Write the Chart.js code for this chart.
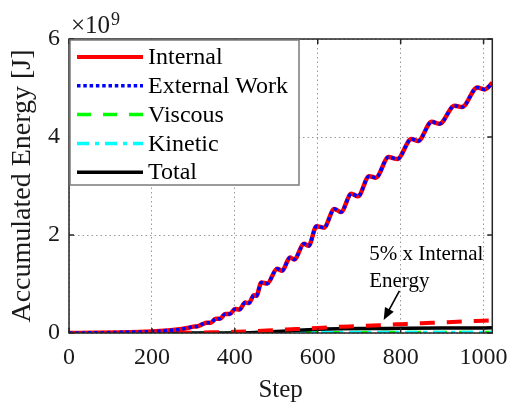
<!DOCTYPE html>
<html>
<head>
<meta charset="utf-8">
<title>Accumulated Energy</title>
<script src="https://cdn.jsdelivr.net/npm/chart.js@4.4.0/dist/chart.umd.min.js"></script>
<style>
  html, body { margin: 0; padding: 0; background: #fff; }
  canvas { display: block; }
</style>
</head>
<body>
<canvas id="energy" width="518" height="415"></canvas>
<script>
// energies are in units of 1e9 J (the axis carries the x10^9)
var steps = [0, 60, 120, 170, 210, 245, 272, 290, 300, 312,
    322, 332, 342, 354, 364, 377, 388, 401, 411, 425,
    434, 446, 452, 464, 478, 502, 514, 533, 543, 567,
    578, 597, 615, 640, 656, 681, 697, 724, 740, 771,
    792, 826, 842, 875, 894, 930, 948, 985, 1002, 1021];
var internal = [0, 0.004, 0.012, 0.022, 0.035, 0.055, 0.08, 0.11, 0.13, 0.14,
    0.18, 0.21, 0.21, 0.29, 0.29, 0.39, 0.39, 0.49, 0.48, 0.62,
    0.61, 0.77, 0.76, 1.03, 1.01, 1.31, 1.27, 1.54, 1.50, 1.82,
    1.78, 2.18, 2.15, 2.53, 2.47, 2.84, 2.79, 3.20, 3.17, 3.59,
    3.55, 3.96, 3.92, 4.31, 4.27, 4.64, 4.61, 5.01, 4.97, 5.10];
var externalWork = [0, 0.004, 0.012, 0.022, 0.035, 0.055, 0.08, 0.11, 0.13, 0.14,
    0.18, 0.21, 0.21, 0.29, 0.29, 0.39, 0.39, 0.49, 0.48, 0.62,
    0.61, 0.77, 0.76, 1.03, 1.01, 1.31, 1.27, 1.54, 1.50, 1.82,
    1.78, 2.18, 2.15, 2.53, 2.47, 2.84, 2.79, 3.20, 3.17, 3.59,
    3.55, 3.96, 3.92, 4.31, 4.27, 4.64, 4.61, 5.01, 4.97, 5.10];

var slowSteps = [0, 100, 200, 300, 400, 450, 500, 550, 600, 650, 700, 800, 900, 1021];
var viscous = [0, 0, 0, 0, 0.002, 0.004, 0.005, 0.006, 0.007, 0.007, 0.008, 0.008, 0.008, 0.008];
var kinetic = [0, 0, 0, 0, 0.004, 0.008, 0.01, 0.01, 0.01, 0.01, 0.01, 0.01, 0.01, 0.01];
var total = [0, 0, 0, 0, 0.002, 0.012, 0.03, 0.055, 0.075, 0.085, 0.09, 0.095, 0.1, 0.105];

var fivePctSteps = [0, 200, 300, 350, 400, 450, 500, 550, 600, 650, 700, 750, 800, 850, 900, 950, 1000, 1021];
var fivePctInternal = [0, 0.002, 0.007, 0.013, 0.024, 0.04, 0.062, 0.08, 0.104, 0.125, 0.14, 0.16, 0.18, 0.2, 0.215, 0.235, 0.25, 0.257];

var xTicks = [0, 200, 400, 600, 800, 1000];
var yTicks = [0, 2, 4, 6];

var serif = "'Liberation Serif', 'Times New Roman', serif";

function toPoints(xs, ys) {
    return xs.map(function(x, i) {
        return { x: x, y: ys[i] };
    });
}

// box round the axes with inward tick marks
var framePlugin = {
    id: 'frame',
    afterDatasetsDraw: function(chart) {
        var c = chart.ctx;
        var a = chart.chartArea;
        var xs = chart.scales.x;
        var ys = chart.scales.y;
        c.save();
        c.strokeStyle = '#262626';
        c.lineWidth = 1.5;
        c.strokeRect(a.left, a.top, a.right - a.left, a.bottom - a.top);
        c.beginPath();
        xTicks.forEach(function(t) {
            var px = xs.getPixelForValue(t);
            c.moveTo(px, a.bottom);
            c.lineTo(px, a.bottom - 5);
            c.moveTo(px, a.top);
            c.lineTo(px, a.top + 5);
        });
        yTicks.forEach(function(t) {
            var py = ys.getPixelForValue(t);
            c.moveTo(a.left, py);
            c.lineTo(a.left + 5, py);
            c.moveTo(a.right, py);
            c.lineTo(a.right - 5, py);
        });
        c.stroke();
        c.restore();
    }
};

// legend inside the top left corner
var legendPlugin = {
    id: 'boxLegend',
    afterDatasetsDraw: function(chart) {
        var c = chart.ctx;
        var a = chart.chartArea;
        var left = a.left + 1, top = a.top + 1, w = 229, h = 145;
        c.save();
        c.fillStyle = '#fff';
        c.fillRect(left, top, w, h);
        c.strokeStyle = '#7a7a7a';
        c.lineWidth = 1.5;
        c.strokeRect(left, top, w, h);
        c.font = '24px ' + serif;
        c.textBaseline = 'middle';
        c.textAlign = 'left';
        var row = 0;
        chart.data.datasets.forEach(function(ds) {
            if (!ds.inLegend) return;
            var y = top + 17 + row * 28.8;
            c.beginPath();
            c.setLineDash(ds.borderDash || []);
            c.strokeStyle = ds.borderColor;
            c.lineWidth = Math.min(ds.borderWidth, 4);
            c.moveTo(left + 7, y);
            c.lineTo(left + 73, y);
            c.stroke();
            c.setLineDash([]);
            c.fillStyle = '#000';
            c.fillText(ds.label, left + 78, y + 1);
            row++;
        });
        c.restore();
    }
};

// exponent label and the arrow note
var notePlugin = {
    id: 'notes',
    afterDraw: function(chart) {
        var c = chart.ctx;
        var xs = chart.scales.x;
        var ys = chart.scales.y;
        c.save();
        c.fillStyle = '#1a1a1a';
        c.textAlign = 'left';
        c.textBaseline = 'alphabetic';
        c.font = '25px ' + serif;
        c.fillText('\u00d710', 71, 33);
        var w = c.measureText('\u00d710').width;
        c.font = '18px ' + serif;
        c.fillText('9', 71 + w + 1, 25);

        c.fillStyle = '#000';
        c.font = '21px ' + serif;
        var tx = xs.getPixelForValue(724);
        c.fillText('5% x Internal', tx, ys.getPixelForValue(1.49));
        c.fillText('Energy', tx, ys.getPixelForValue(0.94));

        var x1 = xs.getPixelForValue(797), y1 = ys.getPixelForValue(0.86);
        var x2 = xs.getPixelForValue(759), y2 = ys.getPixelForValue(0.265);
        var ang = Math.atan2(y2 - y1, x2 - x1);
        c.strokeStyle = '#000';
        c.lineWidth = 1.6;
        c.beginPath();
        c.moveTo(x1, y1);
        c.lineTo(x2 - 8 * Math.cos(ang), y2 - 8 * Math.sin(ang));
        c.stroke();
        c.beginPath();
        c.moveTo(x2, y2);
        c.lineTo(x2 - 12 * Math.cos(ang) + 5 * Math.sin(ang), y2 - 12 * Math.sin(ang) - 5 * Math.cos(ang));
        c.lineTo(x2 - 12 * Math.cos(ang) - 5 * Math.sin(ang), y2 - 12 * Math.sin(ang) + 5 * Math.cos(ang));
        c.closePath();
        c.fillStyle = '#000';
        c.fill();
        c.restore();
    }
};

var ctx = document.getElementById('energy').getContext('2d');

var myChart = new Chart(ctx, {
    type: 'line',
    data: {
        datasets: [{
            label: 'Internal',
            data: toPoints(steps, internal),
            borderColor: '#ff0000',
            borderWidth: 4.5,
            inLegend: true,
            order: 1
        }, {
            label: 'External Work',
            data: toPoints(steps, externalWork),
            borderColor: '#0000ff',
            borderWidth: 3.5,
            borderDash: [3.5, 2.8],
            inLegend: true,
            order: 0
        }, {
            label: 'Viscous',
            data: toPoints(slowSteps, viscous),
            borderColor: '#00ff00',
            borderWidth: 3.5,
            borderDash: [14, 12],
            inLegend: true,
            order: 5
        }, {
            label: 'Kinetic',
            data: toPoints(slowSteps, kinetic),
            borderColor: '#00ffff',
            borderWidth: 3.5,
            borderDash: [12, 6, 4, 6],
            inLegend: true,
            order: 4
        }, {
            label: 'Total',
            data: toPoints(slowSteps, total),
            borderColor: '#000000',
            borderWidth: 3.5,
            inLegend: true,
            order: 3
        }, {
            label: '5% x Internal Energy',
            data: toPoints(fivePctSteps, fivePctInternal),
            borderColor: '#ff0000',
            borderWidth: 4,
            borderDash: [15, 12],
            inLegend: false,
            order: 2
        }]
    },
    options: {
        responsive: false,
        animation: false,
        devicePixelRatio: 1,
        events: [],
        layout: { padding: { top: 39, right: 20, left: 0, bottom: 0 } },
        elements: {
            point: { radius: 0 },
            line: { cubicInterpolationMode: 'monotone', fill: false }
        },
        plugins: {
            legend: { display: false },
            tooltip: { enabled: false }
        },
        scales: {
            x: {
                type: 'linear',
                min: 0,
                max: 1021,
                afterBuildTicks: function(scale) {
                    scale.ticks = xTicks.map(function(v) { return { value: v }; });
                },
                afterFit: function(scale) {
                    scale.height = 82;
                },
                ticks: {
                    padding: 10,
                    color: '#1a1a1a',
                    maxRotation: 0,
                    autoSkip: false,
                    font: { family: serif, size: 24 },
                    callback: function(v) { return String(v); }
                },
                grid: { color: '#999999', lineWidth: 1, drawTicks: false },
                border: { display: false, dash: [1.5, 3] },
                title: {
                    display: true,
                    text: 'Step',
                    color: '#1a1a1a',
                    font: { family: serif, size: 25, lineHeight: 1 },
                    padding: { top: 0, bottom: 12.5 }
                }
            },
            y: {
                type: 'linear',
                min: 0,
                max: 6,
                afterBuildTicks: function(scale) {
                    scale.ticks = yTicks.map(function(v) { return { value: v }; });
                },
                afterFit: function(scale) {
                    scale.width = 69;
                },
                ticks: {
                    padding: 9,
                    color: '#1a1a1a',
                    font: { family: serif, size: 24 },
                    callback: function(v) { return String(v); }
                },
                grid: { color: '#999999', lineWidth: 1, drawTicks: false },
                border: { display: false, dash: [1.5, 3] },
                title: {
                    display: true,
                    text: 'Accumulated Energy [J]',
                    color: '#1a1a1a',
                    font: { family: serif, size: 28, lineHeight: 1 },
                    padding: { top: 9, bottom: 0 }
                }
            }
        }
    },
    plugins: [framePlugin, legendPlugin, notePlugin]
});
</script>
</body>
</html>
